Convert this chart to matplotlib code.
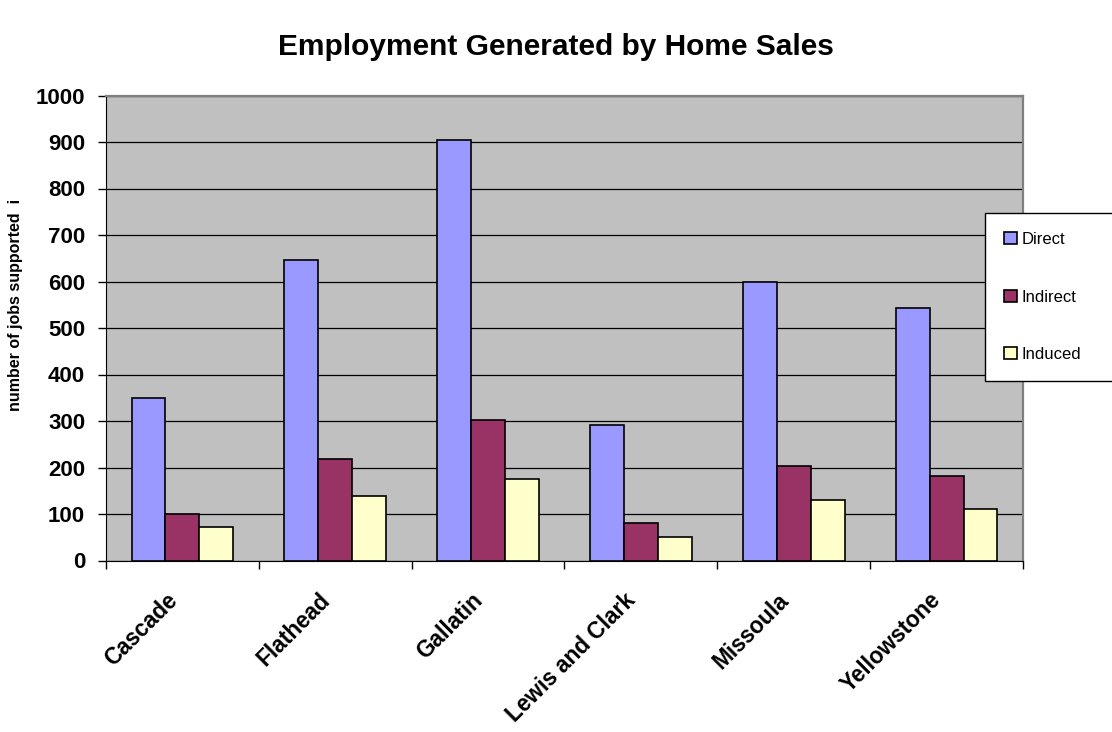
import matplotlib.pyplot as plt
import matplotlib.transforms as mtransforms
import numpy as np

plt.rcParams['font.family'] = ['Liberation Sans', 'DejaVu Sans']

counties = ["Cascade", "Flathead", "Gallatin", "Lewis and Clark", "Missoula", "Yellowstone"]
direct = [349, 646, 904, 291, 600, 543]
indirect = [100, 218, 303, 80, 203, 182]
induced = [73, 138, 176, 50, 131, 110]

series = [("Direct", direct, "#9999FF"),
          ("Indirect", indirect, "#993366"),
          ("Induced", induced, "#FFFFCC")]

W, H = 1112, 732
fig = plt.figure(figsize=(W / 100, H / 100), dpi=100)
ax = fig.add_axes([106 / W, 1 - 560.5 / H, 917 / W, 465 / H])
ax.set_facecolor("#C0C0C0")

x = np.arange(len(counties))
w = 0.222
for i, (name, vals, col) in enumerate(series):
    ax.bar(x + (i - 1) * w, vals, w, color=col, edgecolor="black", linewidth=1.2,
           label=name, zorder=3)

ax.set_xlim(-0.5, len(counties) - 0.5)
ax.set_ylim(0, 1000)
ax.set_yticks(range(0, 1001, 100))
ax.yaxis.grid(True, color="black", linewidth=0.9, zorder=1)
ax.tick_params(axis="y", labelsize=16, direction="out", length=6, width=1, pad=9)
for lab in ax.get_yticklabels():
    lab.set_fontweight("bold")

# tick marks at the group boundaries, names drawn under each group
ax.set_xticks(np.arange(-0.5, len(counties)))
ax.set_xticklabels([])
ax.tick_params(axis="x", direction="out", length=6, width=1)
shift = mtransforms.ScaledTranslation(-17 / 100, -28 / 100, fig.dpi_scale_trans)
for xi, name in zip(x, counties):
    ax.text(xi, 0, name, transform=ax.get_xaxis_transform() + shift,
            rotation=45, ha="right", va="top", rotation_mode="anchor",
            fontsize=16.3, fontweight="bold")

for side in ["top", "right"]:
    ax.spines[side].set_color("#808080")
    ax.spines[side].set_linewidth(1.6)
ax.spines["left"].set_color("black")
ax.spines["bottom"].set_color("black")

fig.text(16 / W, 1 - 305 / H, "number of jobs supported  i", rotation=90,
         ha="center", va="center", fontsize=11.5, fontweight="bold")

fig.text(556 / W, 1 - 47 / H, "Employment Generated by Home Sales",
         ha="center", va="center", fontsize=21.5, fontweight="bold")

leg = ax.legend(loc="upper left", mode="expand",
                bbox_to_anchor=(985 / W, 1 - 383 / H, 135 / W, 170 / H),
                bbox_transform=fig.transFigure, fontsize=12, frameon=True,
                fancybox=False, edgecolor="black", framealpha=1,
                labelspacing=2.55, handlelength=0.75, handleheight=0.75,
                handletextpad=0.3, borderpad=1.15, borderaxespad=0)
leg.get_frame().set_linewidth(1)

fig.savefig("out.png", dpi=100)
